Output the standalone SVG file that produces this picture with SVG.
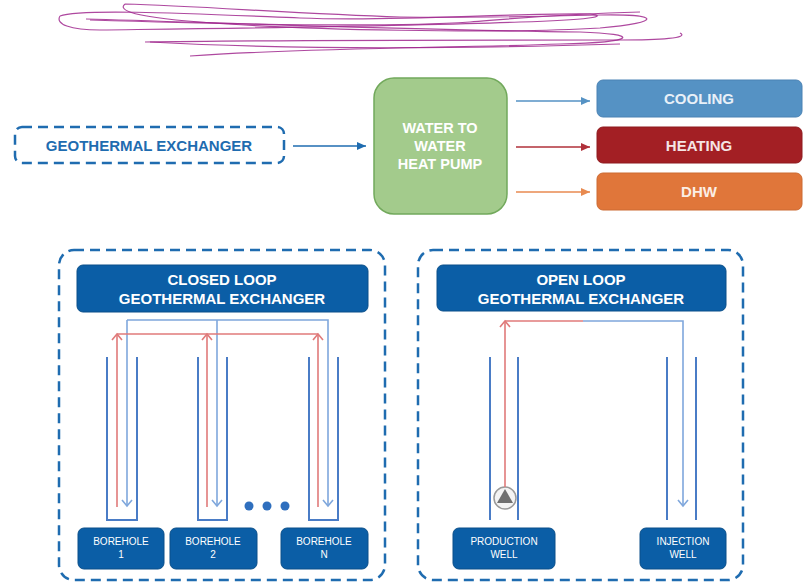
<svg xmlns="http://www.w3.org/2000/svg" width="811" height="582" viewBox="0 0 811 582">
<defs>
<style>
.t{font-family:"Liberation Sans",Arial,sans-serif;font-weight:bold;text-anchor:middle}
.n{font-family:"Liberation Sans",Arial,sans-serif;font-weight:normal;text-anchor:middle;font-size:10px;fill:#ffffff}
.dash{fill:none;stroke:#1f6cb0;stroke-width:2.5;stroke-dasharray:10 6}
.title{fill:#0b5ea6;stroke:#0a4f8a;stroke-width:1}
.lab{fill:#0b5ea6;stroke:#0a4f8a;stroke-width:1}
.wall{fill:none;stroke:#4a7cc6;stroke-width:2}
.bl{fill:none;stroke:#7fa7dc;stroke-width:1.6}
.rd{fill:none;stroke:#e07a7a;stroke-width:1.6}
.sc{fill:none;stroke:#a0288e;stroke-width:1.2;opacity:0.85}
</style>
<marker id="aBlue" markerWidth="10" markerHeight="10" refX="9" refY="5" orient="auto" markerUnits="userSpaceOnUse"><path d="M0,1 L9,5 L0,9 Z" fill="#1f6cb0"/></marker>
<marker id="aCool" markerWidth="10" markerHeight="10" refX="9" refY="5" orient="auto" markerUnits="userSpaceOnUse"><path d="M0,1 L9,5 L0,9 Z" fill="#5592c4"/></marker>
<marker id="aHeat" markerWidth="10" markerHeight="10" refX="9" refY="5" orient="auto" markerUnits="userSpaceOnUse"><path d="M0,1 L9,5 L0,9 Z" fill="#b0303a"/></marker>
<marker id="aDhw" markerWidth="10" markerHeight="10" refX="9" refY="5" orient="auto" markerUnits="userSpaceOnUse"><path d="M0,1 L9,5 L0,9 Z" fill="#e88a50"/></marker>
<marker id="oBlue" markerWidth="14" markerHeight="14" refX="7" refY="7" orient="auto" markerUnits="userSpaceOnUse"><path d="M1,2 L7,7 L1,12" fill="none" stroke="#7fa7dc" stroke-width="1.6"/></marker>
<marker id="oRed" markerWidth="14" markerHeight="14" refX="7" refY="7" orient="auto" markerUnits="userSpaceOnUse"><path d="M1,2 L7,7 L1,12" fill="none" stroke="#e07a7a" stroke-width="1.6"/></marker>
</defs>
<rect width="811" height="582" fill="#ffffff"/>

<g id="scribble">
<path class="sc" d="M125,4 C200,6 300,14 400,17 C480,18 560,16 600,15 C660,14 665,22 600,28 C500,34 300,30 200,22 C120,16 120,8 125,4"/>
<path class="sc" d="M60,16 C80,8 200,14 300,18 C400,22 500,13 590,14 C610,16 590,20 520,22 C420,26 250,28 100,30 C70,30 55,24 60,16"/>
<path class="sc" d="M86,19 C200,22 400,30 580,32 C640,34 640,42 560,44 C450,48 300,48 190,56"/>
<path class="sc" d="M145,42 C250,40 450,40 620,40 C660,40 690,38 680,33"/>
<path class="sc" d="M150,42 C260,48 420,50 620,44"/>
<path class="sc" d="M90,20 C220,24 380,28 470,22 C520,18 560,14 640,12"/>
</g>

<g id="geo-exchanger">
<rect class="dash" x="15" y="127" width="269" height="36" rx="7"/>
<text class="t" x="149" y="150.5" font-size="15" fill="#1f6cb0">GEOTHERMAL EXCHANGER</text>
</g>

<g id="heat-pump">
<rect x="374" y="78" width="133" height="136" rx="20" fill="#a3cb8c" stroke="#72a95c" stroke-width="1.5"/>
<text class="t" font-size="14.5" fill="#ffffff"><tspan x="440" y="133">WATER TO</tspan><tspan x="440" y="151">WATER</tspan><tspan x="440" y="169">HEAT PUMP</tspan></text>
</g>

<g id="cooling">
<rect x="597" y="80" width="205" height="37" rx="6" fill="#5592c4" stroke="#4a82b4" stroke-width="1"/>
<text class="t" x="699" y="104" font-size="15" fill="#e8f0f8">COOLING</text>
</g>
<g id="heating">
<rect x="597" y="127" width="205" height="36" rx="6" fill="#a31f24" stroke="#8e1a1e" stroke-width="1"/>
<text class="t" x="699" y="150.5" font-size="15" fill="#f5e5e5">HEATING</text>
</g>
<g id="dhw">
<rect x="597" y="173" width="205" height="37" rx="6" fill="#e0763a" stroke="#cc6a32" stroke-width="1"/>
<text class="t" x="699" y="197" font-size="15" fill="#fbeee5">DHW</text>
</g>

<g id="closed-loop">
<rect class="dash" x="59" y="250" width="326" height="330" rx="15"/>
<rect class="title" x="77" y="265" width="291" height="47" rx="6"/>
<text class="t" font-size="15" fill="#ffffff"><tspan x="222" y="285">CLOSED LOOP</tspan><tspan x="222" y="304">GEOTHERMAL EXCHANGER</tspan></text>
</g>

<g id="boreholes">
<path class="wall" d="M107,357 V520 H137 V357"/>
<path class="wall" d="M198,357 V520 H227 V357"/>
<path class="wall" d="M309,357 V520 H338 V357"/>
<circle cx="249" cy="506" r="4.5" fill="#2f6fbe"/>
<circle cx="267" cy="506" r="4.5" fill="#2f6fbe"/>
<circle cx="285" cy="506" r="4.5" fill="#2f6fbe"/>
</g>

<g id="borehole-1">
<rect class="lab" x="78" y="528" width="86" height="41" rx="6"/>
<text class="n"><tspan x="121" y="545">BOREHOLE</tspan><tspan x="121" y="558">1</tspan></text>
</g>
<g id="borehole-2">
<rect class="lab" x="170" y="528" width="87" height="41" rx="6"/>
<text class="n"><tspan x="213" y="545">BOREHOLE</tspan><tspan x="213" y="558">2</tspan></text>
</g>
<g id="borehole-n">
<rect class="lab" x="281" y="528" width="87" height="41" rx="6"/>
<text class="n"><tspan x="324" y="545">BOREHOLE</tspan><tspan x="324" y="558">N</tspan></text>
</g>

<g id="open-loop">
<rect class="dash" x="418" y="250" width="325" height="330" rx="15"/>
<rect class="title" x="437" y="265" width="289" height="46" rx="6"/>
<text class="t" font-size="15" fill="#ffffff"><tspan x="581" y="285">OPEN LOOP</tspan><tspan x="581" y="304">GEOTHERMAL EXCHANGER</tspan></text>
</g>

<g id="wells">
<path class="wall" d="M490,357 V520 M518,357 V520"/>
<path class="wall" d="M667,357 V520 M696,357 V520"/>
</g>

<g id="pump">
<circle cx="505" cy="498" r="11" fill="#f4f4f4" stroke="#9a9a9a" stroke-width="1.5"/>
<path d="M505,489 L513,503 L497,503 Z" fill="#707070"/>
</g>

<g id="production-well">
<rect class="lab" x="453" y="528" width="102" height="41" rx="6"/>
<text class="n"><tspan x="504" y="545">PRODUCTION</tspan><tspan x="504" y="558">WELL</tspan></text>
</g>
<g id="injection-well">
<rect class="lab" x="640" y="528" width="86" height="41" rx="6"/>
<text class="n"><tspan x="683" y="545">INJECTION</tspan><tspan x="683" y="558">WELL</tspan></text>
</g>

<g id="connectors">
<line x1="293" y1="146" x2="366" y2="146" stroke="#1f6cb0" stroke-width="1.5" marker-end="url(#aBlue)"/>
<line x1="516" y1="101" x2="590" y2="101" stroke="#5592c4" stroke-width="1.5" marker-end="url(#aCool)"/>
<line x1="516" y1="147" x2="590" y2="147" stroke="#b0303a" stroke-width="1.5" marker-end="url(#aHeat)"/>
<line x1="516" y1="192" x2="590" y2="192" stroke="#e88a50" stroke-width="1.5" marker-end="url(#aDhw)"/>

<path class="bl" d="M127,320 H328 V506" marker-end="url(#oBlue)"/>
<line class="bl" x1="127" y1="320" x2="127" y2="506" marker-end="url(#oBlue)"/>
<line class="bl" x1="217" y1="320" x2="217" y2="506" marker-end="url(#oBlue)"/>

<path class="rd" d="M117,334 H318"/>
<line class="rd" x1="117" y1="507" x2="117" y2="334" marker-end="url(#oRed)"/>
<line class="rd" x1="207" y1="507" x2="207" y2="334" marker-end="url(#oRed)"/>
<line class="rd" x1="318" y1="507" x2="318" y2="334" marker-end="url(#oRed)"/>

<line class="rd" x1="505" y1="487" x2="505" y2="321" marker-end="url(#oRed)"/>
<path class="rd" d="M505,321 H583"/>
<path class="bl" d="M583,321 H683 V506" marker-end="url(#oBlue)"/>
</g>
</svg>
